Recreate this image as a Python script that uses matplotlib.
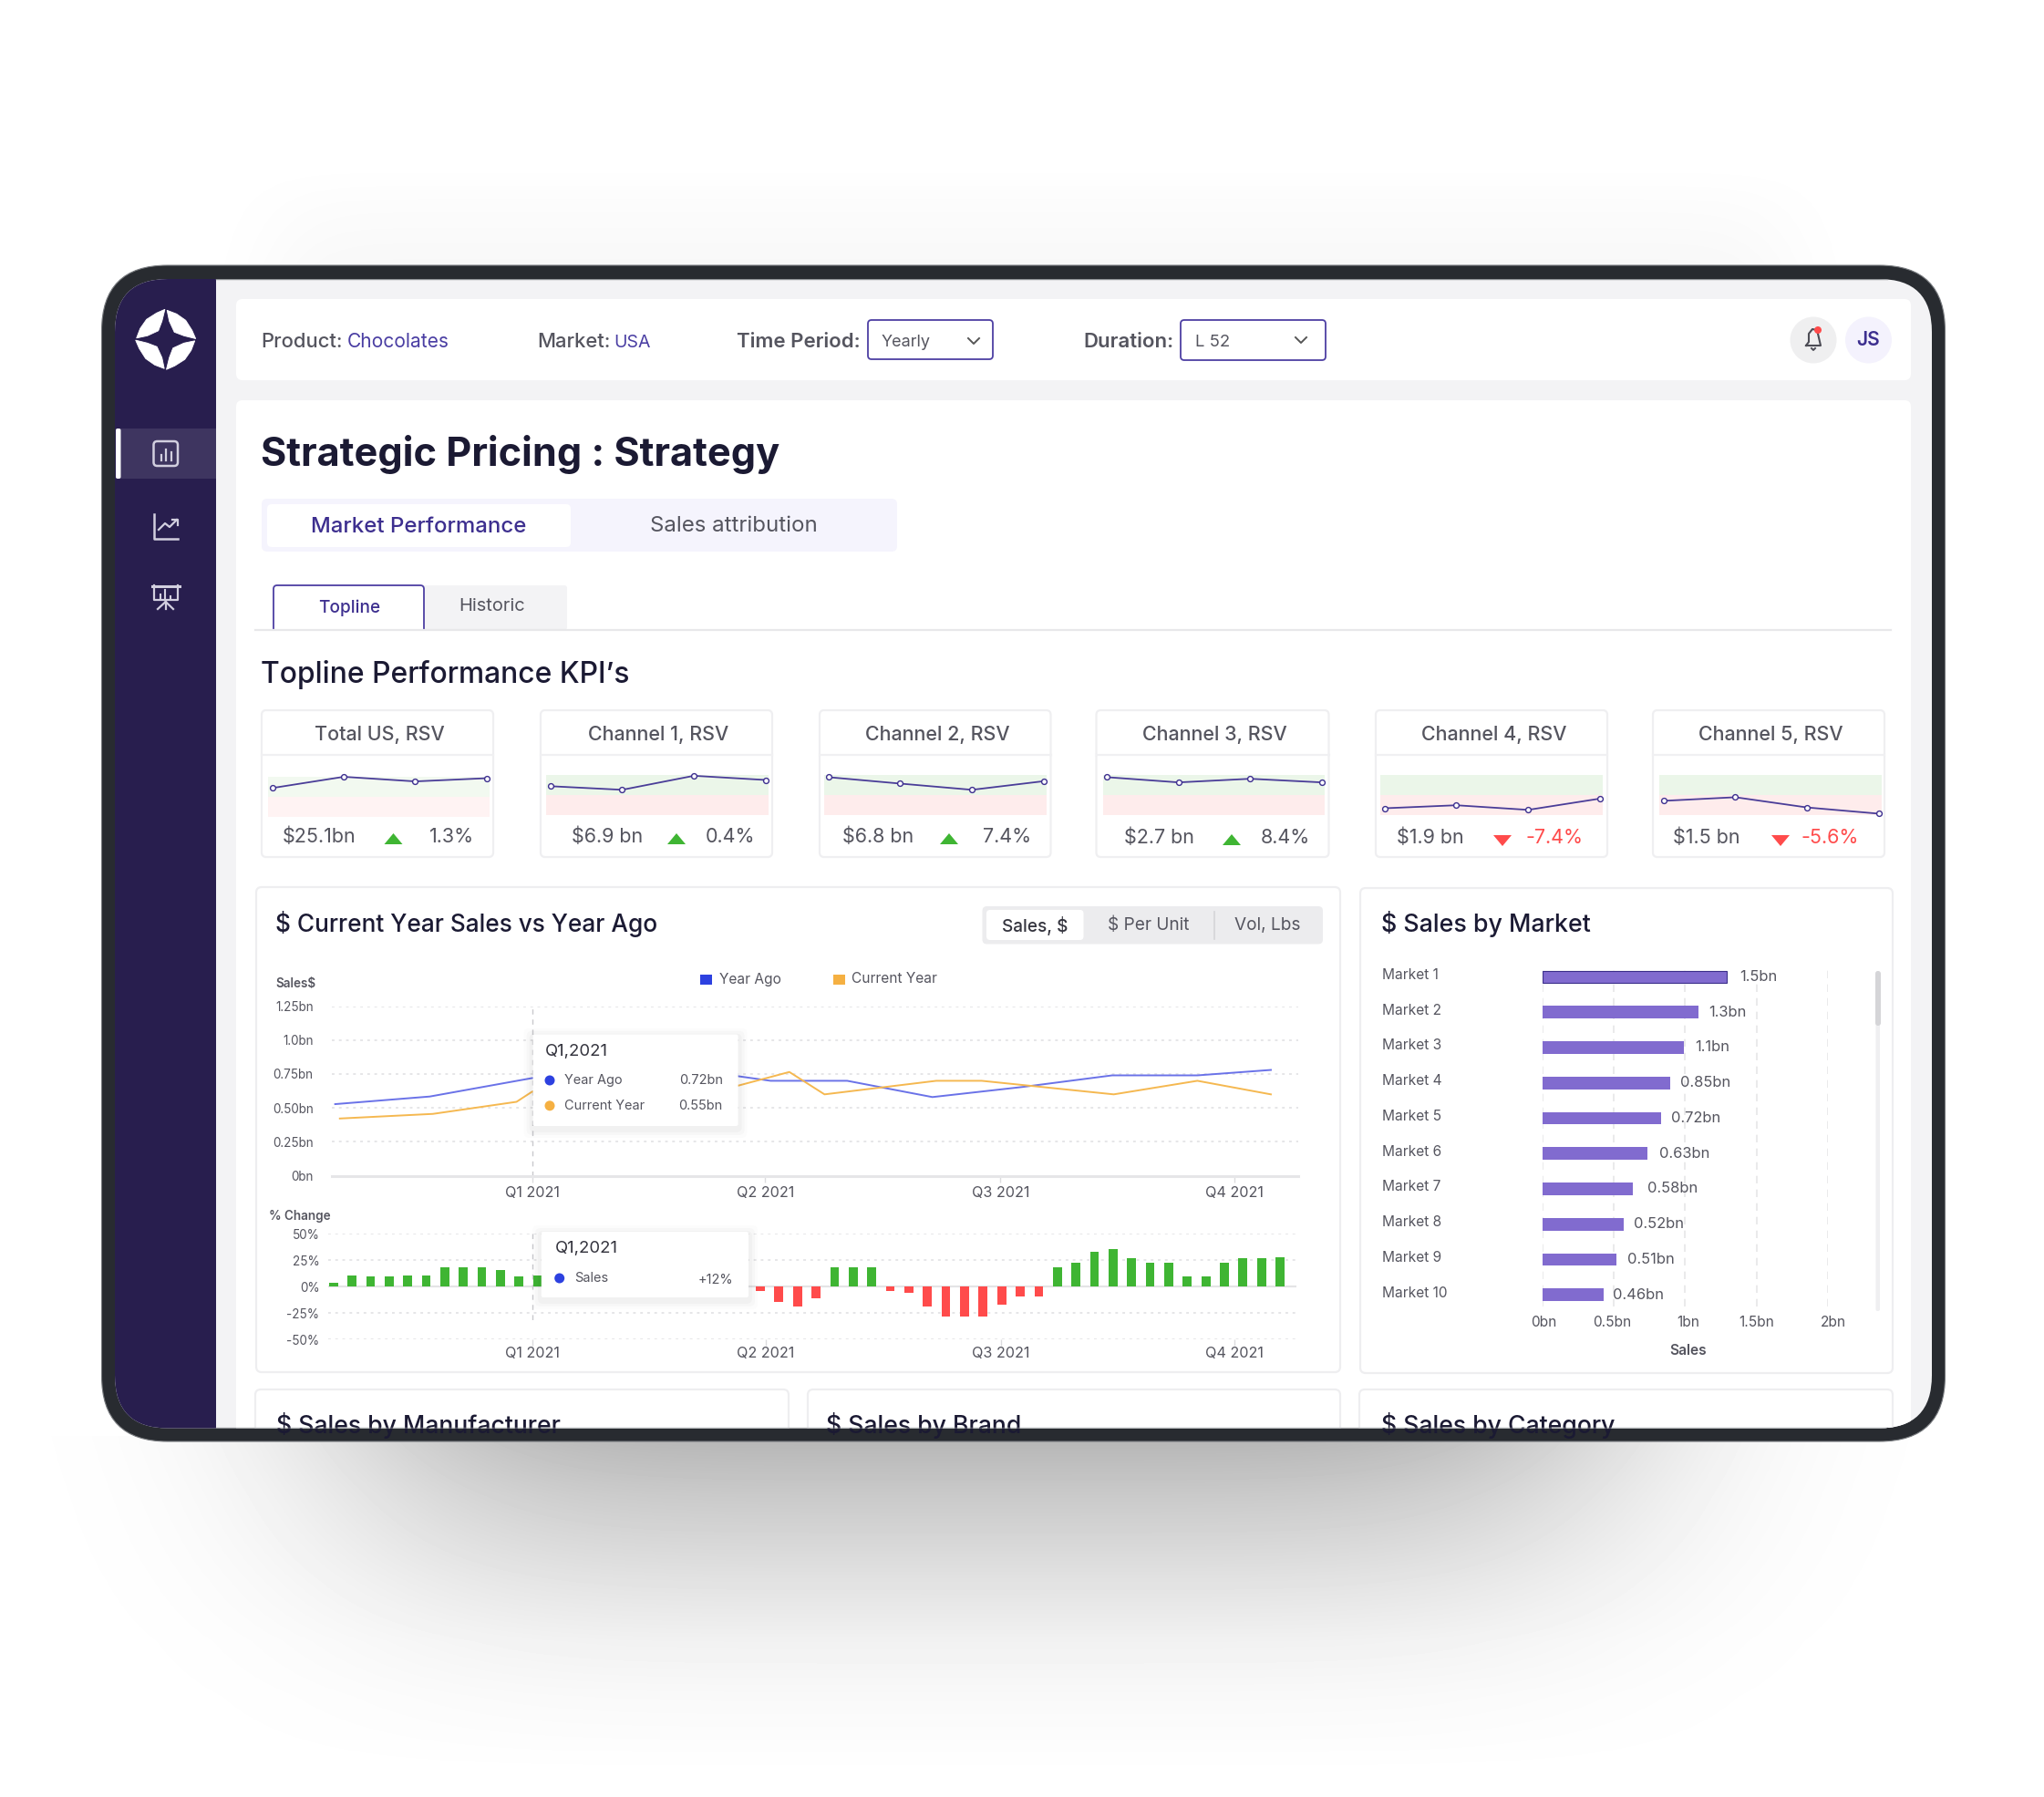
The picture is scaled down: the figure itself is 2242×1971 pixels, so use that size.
import math
import numpy as np
import matplotlib
matplotlib.use("Agg")
import matplotlib.pyplot as plt
from matplotlib.patches import FancyBboxPatch, Rectangle, Circle, Polygon
from matplotlib.transforms import ScaledTranslation

W, H = 2242, 1971

# ---------- data ----------
kpi_titles = ["Total US, RSV", "Channel 1, RSV", "Channel 2, RSV", "Channel 3, RSV", "Channel 4, RSV", "Channel 5, RSV"]
kpi_values = ["$25.1bn", "$6.9 bn", "$6.8 bn", "$2.7 bn", "$1.9 bn", "$1.5 bn"]
kpi_changes = ["1.3%", "0.4%", "7.4%", "8.4%", "-7.4%", "-5.6%"]
spark_total = [0.44, 1.00, 0.77, 0.93]
spark_ch1 = [0.44, 0.26, 0.96, 0.75]
spark_ch2 = [0.89, 0.57, 0.26, 0.69]
spark_ch3 = [0.89, 0.63, 0.81, 0.63]
spark_ch4 = [-0.66, -0.51, -0.74, -0.18]
spark_ch5 = [-0.29, -0.11, -0.62, -0.93]

quarter_labels = ["Q1 2021", "Q2 2021", "Q3 2021", "Q4 2021"]
quarter_months = [0, 2.98, 5.99, 8.98]
quarter_weeks = [10.7, 23.3, 35.97, 48.53]
sales_ticks = [0, 0.25, 0.5, 0.75, 1.0, 1.25]
sales_ticklabels = ["0bn", "0.25bn", "0.50bn", "0.75bn", "1.0bn", "1.25bn"]
year_ago_month = [-2.52, -1.31, 0, 1.3, 2.62, 3.05, 4.03, 5.12, 6.28, 7.42, 8.51, 9.45]
year_ago_sales = [0.528, 0.584, 0.72, 0.75, 0.735, 0.70, 0.70, 0.58, 0.655, 0.74, 0.74, 0.78]
current_month = [-2.46, -1.27, -0.2, 0, 1.3, 2.64, 3.29, 3.74, 5.17, 5.75, 7.44, 8.51, 9.45]
current_sales = [0.422, 0.456, 0.545, 0.62, 0.64, 0.665, 0.765, 0.60, 0.70, 0.70, 0.60, 0.70, 0.60]

pct_ticks = [-50, -25, 0, 25, 50]
pct_ticklabels = ["-50%", "-25%", "0%", "25%", "50%"]
weekly_change = [4, 11, 10, 10, 11, 11, 18, 18, 18, 16, 10, 11,
                 12, 14, 15, 10, 8, 5, 3, 2, 1, -1, -2,
                 -4, -14, -18.5, -10.5, 18, 18, 18, -4, -6, -19, -28, -28, -28, -16.5, -9, -9,
                 18, 23, 33, 36, 27, 23, 23, 10, 10, 23, 27, 27, 28]

markets = ["Market 1", "Market 2", "Market 3", "Market 4", "Market 5",
           "Market 6", "Market 7", "Market 8", "Market 9", "Market 10"]
market_bars = [1.293, 1.096, 0.99, 0.894, 0.832, 0.736, 0.63, 0.569, 0.517, 0.429]
market_labels = ["1.5bn", "1.3bn", "1.1bn", "0.85bn", "0.72bn", "0.63bn", "0.58bn", "0.52bn", "0.51bn", "0.46bn"]
market_ticks = [0, 0.5, 1, 1.5, 2]
market_ticklabels = ["0bn", "0.5bn", "1bn", "1.5bn", "2bn"]

# ---------- style ----------
plt.rcParams["font.family"] = ["Inter", "DejaVu Sans"]
INK = "#1b1a33"
GREY = "#55555f"
PURPLE = "#3d2f8f"
BEZEL = "#282b30"
SIDE = "#281e4e"
GREEN = "#3fb533"
RED = "#ff4b4b"
BLUE = "#6a72e8"
ORANGE = "#f5b850"


def pt(px):
    return px * 0.72


fig = plt.figure(figsize=(W / 100, H / 100), dpi=100, facecolor="white")


def full_axes(z):
    a = fig.add_axes([0, 0, 1, 1], zorder=z)
    a.set_xlim(0, W)
    a.set_ylim(H, 0)
    a.axis("off")
    a.patch.set_alpha(0)
    return a


bg = full_axes(0)
over = full_axes(5)


def ax_px(x0, y0, x1, y1, z=2):
    a = fig.add_axes([x0 / W, 1 - y1 / H, (x1 - x0) / W, (y1 - y0) / H], zorder=z)
    a.patch.set_alpha(0)
    return a


def rrect(a, x0, y0, x1, y1, r=6, fc="white", ec="none", lw=0, z=2, **kw):
    p = FancyBboxPatch((x0 + r, y0 + r), x1 - x0 - 2 * r, y1 - y0 - 2 * r,
                       boxstyle=f"round,pad={r},rounding_size={r}",
                       fc=fc, ec=ec, lw=lw, zorder=z, **kw)
    a.add_patch(p)
    return p


def T(a, x, y, s, size, color=GREY, ha="left", weight="normal", z=6):
    return a.text(x, y, s, fontsize=pt(size), color=color, ha=ha, va="center",
                  fontweight=weight, zorder=z)


# ---------- background shadow ----------
erf = np.vectorize(math.erf)
xs = np.arange(W)
ys = np.arange(H)
gx = 0.5 * (erf((xs - 400) / 220) - erf((xs - 1750) / 220))
gx2 = 0.5 * (erf((xs - 300) / 70) - erf((xs - 1960) / 70))
fy = np.interp(ys, [1575, 1640, 1733, 1800, 1860, 1950], [0.29, 0.21, 0.115, 0.055, 0.025, 0.0], left=0, right=0)
fy2 = np.interp(ys, [175, 230, 295], [0.0, 0.015, 0.03], left=0, right=0)
shade = np.outer(fy, gx) + np.outer(fy2, gx2)
bg.imshow(1 - shade, cmap="gray", vmin=0, vmax=1, extent=[0, W, H, 0], aspect="auto", zorder=0)
bg.set_xlim(0, W)
bg.set_ylim(H, 0)

# ---------- device ----------
rrect(bg, 111.5, 291, 2133.5, 1581, r=72, fc=BEZEL, ec="#777a7e", lw=0.8, z=1)
inner = rrect(bg, 126, 306, 2119, 1566.5, r=58, fc="#f3f3f5", z=1.5)

bg.add_patch(Rectangle((126, 306), 111, 1262, fc=SIDE, ec="none", zorder=2))
bg.add_patch(Rectangle((127, 470), 110, 55, fc="#3e3560", ec="none", zorder=2.1))
rrect(bg, 127, 470, 132.5, 525, r=2, fc="white", z=2.2)
bg.plot([237, 2070], [306, 306], color="#8d9094", lw=1, zorder=2.3)
bg.plot([237, 2070], [1566, 1566], color="#8d9094", lw=1, zorder=9)

# logo: four petals
petal = np.array([(1.5, -32), (12, -28), (22, -21), (29, -10), (33, -0.8), (20, -4), (9.5, -8), (4, -20)])
for k in range(4):
    c, s = math.cos(k * math.pi / 2), math.sin(k * math.pi / 2)
    pts = np.column_stack([petal[:, 0] * c - petal[:, 1] * s, petal[:, 0] * s + petal[:, 1] * c])
    bg.add_patch(Polygon(pts + [181.7, 372.3], closed=True, fc="white", ec="white", lw=0.6, zorder=3))

ICON = "#d2cfdf"
# icon 1
rrect(bg, 168.5, 484, 195, 511, r=4, fc="none", ec=ICON, lw=1.8, z=3)
for xb, y0 in [(176.5, 499), (182, 493), (188, 496)]:
    bg.plot([xb, xb], [y0, 505], color=ICON, lw=1.6, zorder=3)
# icon 2
bg.plot([168.5, 168.5, 195], [564, 591, 591], color=ICON, lw=1.8, zorder=3)
bg.plot([174, 181, 186, 194], [581, 574, 578, 570], color=ICON, lw=1.6, zorder=3)
bg.plot([188.5, 195, 195], [570, 570, 576], color=ICON, lw=1.6, zorder=3)
# icon 3
bg.plot([167, 197], [642.5, 642.5], color=ICON, lw=2.2, zorder=3)
bg.plot([169, 169, 195, 195], [642, 658, 658, 642], color=ICON, lw=1.6, zorder=3)
for xb, y0 in [(176, 652), (181, 647), (187, 654)]:
    bg.plot([xb, xb], [y0, 656], color=ICON, lw=1.5, zorder=3)
for xe in (173, 181.7, 190):
    bg.plot([181.7, xe], [660, 668], color=ICON, lw=1.6, zorder=3)

# ---------- header ----------
rrect(bg, 259, 328, 2096, 417, r=7, fc="white")
T(bg, 286, 375, "Product:", 22, weight="medium")
T(bg, 380.5, 375, "Chocolates", 21, color="#4a3ea3")
T(bg, 589, 375, "Market:", 22, weight="medium")
T(bg, 673, 376, "USA", 19.5, color="#4a3ea3")
T(bg, 808, 375, "Time Period:", 22.2, weight="semibold")
rrect(bg, 952, 351, 1089, 394, r=4, fc="white", ec="#4d3fa3", lw=1.3, z=3)
T(bg, 967, 376, "Yearly", 18)
bg.plot([1062, 1068, 1074], [371, 377, 371], color="#555", lw=1.4, zorder=4)
T(bg, 1188, 375, "Duration:", 22.2, weight="semibold")
rrect(bg, 1295, 351, 1454, 395, r=4, fc="white", ec="#4d3fa3", lw=1.3, z=3)
T(bg, 1311, 376, "L 52", 18.5)
bg.plot([1421, 1427, 1433], [370, 376, 370], color="#555", lw=1.4, zorder=4)
bg.add_patch(Circle((1989, 373), 25.5, fc="#efeff0", ec="none", zorder=3))
bg.add_patch(Circle((2049.5, 373), 25.5, fc="#f4f2fd", ec="none", zorder=3))
bg.plot([1981, 1984, 1984, 1988, 1993, 1994, 1997, 1981], [379, 375, 366, 361, 362, 366, 379, 379],
        color="#4c4c55", lw=1.5, zorder=4)
bg.plot([1987, 1989, 1991], [382, 384, 382], color="#4c4c55", lw=1.4, zorder=4)
bg.add_patch(Circle((1994, 362), 4, fc=RED, ec="none", zorder=5))
T(bg, 2049.5, 373, "JS", 21, color=PURPLE, ha="center", weight="semibold")

# ---------- main card ----------
rrect(bg, 259, 439, 2096, 1600, r=7, fc="white")
T(bg, 286.5, 498, "Strategic Pricing : Strategy", 43.3, color=INK, weight="bold")
rrect(bg, 287, 547, 984, 605, r=6, fc="#f5f4fd", z=3)
rrect(bg, 293, 553, 626, 600, r=5, fc="white", z=3.2)
T(bg, 459, 578, "Market Performance", 24, color=PURPLE, ha="center", weight="medium")
T(bg, 805, 577, "Sales attribution", 24, ha="center")
rrect(bg, 300, 642, 622, 691, r=3, fc="#f3f3f5", z=3)
rrect(bg, 300, 642, 465, 700, r=4, fc="white", ec="#4d3fa3", lw=1.3, z=3.1)
bg.add_patch(Rectangle((296, 691), 175, 14, fc="white", ec="none", zorder=3.2))
bg.plot([280, 2074], [691, 691], color="#e8e8ea", lw=1.6, zorder=3.3)
T(bg, 383, 667, "Topline", 19, color=PURPLE, ha="center", weight="medium")
T(bg, 540, 665, "Historic", 20, ha="center")
T(bg, 286, 740, "Topline Performance KPI\u2019s", 31.8, color=INK, weight="medium")

# ---------- KPI cards ----------
card_x = [(287, 541), (593, 847), (899, 1152.5), (1202.5, 1457.5), (1509, 1763), (1813, 2067)]
band_x = [(294, 537), (599, 843), (904, 1148), (1209.5, 1453), (1514, 1758), (1820, 2064)]
value_x = [350, 666, 963, 1271.5, 1569, 1872]
tri_x = [431.5, 742, 1041, 1351, 1648, 1953]
pct_x = [495, 801, 1105, 1410, 1705, 2007]
sparks = [spark_total, spark_ch1, spark_ch2, spark_ch3, spark_ch4, spark_ch5]
for i in range(6):
    x0, x1 = card_x[i]
    rrect(bg, x0, 779, x1, 940, r=5, fc="white", ec="#efeff1", lw=1.6, z=3)
    bg.plot([x0, x1], [828, 828], color="#f0f0f2", lw=1.6, zorder=3.2)
    T(bg, (x0 + x1) / 2 + 2.5, 805.5, kpi_titles[i], 21.5, ha="center", weight="medium")
    yv = 918 if i < 3 else 919
    T(bg, value_x[i], yv, kpi_values[i], 21.5, ha="center")
    neg = kpi_changes[i].startswith("-")
    T(bg, pct_x[i], yv, kpi_changes[i], 21.5, color=RED if neg else GREY, ha="center")
    tx = tri_x[i]
    if neg:
        tri = [(tx - 10, yv - 3), (tx + 10, yv - 3), (tx, yv + 9)]
    else:
        tri = [(tx - 10, yv + 8), (tx + 10, yv + 8), (tx, yv - 4)]
    bg.add_patch(Polygon(tri, closed=True, fc=RED if neg else GREEN, ec="none", zorder=4))
    top = 852 if i == 0 else 850
    sa = ax_px(band_x[i][0], top, band_x[i][1], top + 44)
    sa.axis("off")
    sa.set_xlim(-0.06, 3.04)
    sa.set_ylim(-1, 1)
    soft = i == 0
    sa.axhspan(0, 1, color="#f2f9f0" if soft else "#ebf6e9", lw=0)
    sa.axhspan(-1, 0, color="#fff3f3" if soft else "#feecec", lw=0)
    sa.plot(range(4), sparks[i], color="#4a3d98", lw=1.3, marker="o", ms=4.2, mfc="white", mec=PURPLE,
            mew=1.0, clip_on=False)

# ---------- chart cards ----------
rrect(bg, 281, 973, 1470, 1505, r=6, fc="white", ec="#eeeef0", lw=1.6, z=3)
rrect(bg, 1492, 974, 2076, 1506, r=6, fc="white", ec="#eeeef0", lw=1.6, z=3)
for x0, x1, title, tx, tsize in [(280, 865, "$ Sales by Manufacturer", 303, 26.6),
                                 (886, 1470, "$ Sales by Brand", 906, 26.6),
                                 (1491, 2076, "$ Sales by Category", 1515, 26.6)]:
    rrect(bg, x0, 1524, x1, 1640, r=6, fc="white", ec="#eeeef0", lw=1.6, z=3)
    T(bg, tx, 1564, title, tsize, color=INK, weight="medium")

T(bg, 302, 1013, "$ Current Year Sales vs Year Ago", 26.2, color=INK, weight="medium")
T(bg, 1515, 1014, "$ Sales by Market", 26.8, color=INK, weight="medium")
rrect(bg, 1077.5, 994, 1451, 1035.5, r=5, fc="#ececee", z=3.2)
rrect(bg, 1082, 998, 1188.5, 1031, r=4, fc="white", z=3.3)
T(bg, 1135.5, 1015, "Sales, $", 19, color="#35353f", ha="center", weight="medium")
T(bg, 1259.5, 1015, "$ Per Unit", 19, ha="center")
bg.plot([1332, 1332], [1000, 1030], color="#d5d5d8", lw=1.2, zorder=3.4)
T(bg, 1390.5, 1015, "Vol, Lbs", 19, ha="center")
bg.add_patch(Rectangle((768, 1069), 13, 10.5, fc="#2d41e0", ec="none", zorder=4))
T(bg, 789, 1074, "Year Ago", 15.5)
bg.add_patch(Rectangle((913.5, 1069), 13, 10.5, fc="#f5b042", ec="none", zorder=4))
T(bg, 934, 1074, "Current Year", 15.5)
T(bg, 302, 1079.5, "Sales$", 13.5, weight="semibold")
T(bg, 295, 1334, "% Change", 13.5, weight="semibold")

# ---------- line chart ----------
la = ax_px(364.2, 1103.6, 1424, 1289.6)
la.set_xlim(-2.56, 9.80)
la.set_ylim(0, 1.25)
for s in la.spines.values():
    s.set_visible(False)
la.spines["bottom"].set_visible(True)
la.spines["bottom"].set_color("#e6e6e8")
la.spines["bottom"].set_linewidth(2.2)
la.yaxis.grid(True, color="#e6e6e8", lw=1.4, ls=(0, (1.5, 2.5)))
la.set_axisbelow(True)
la.set_yticks(sales_ticks, sales_ticklabels)
la.set_xticks(quarter_months, quarter_labels)
la.tick_params(axis="y", length=0, pad=pt(20.5), labelsize=pt(13.5), labelcolor=GREY)
la.tick_params(axis="x", length=5, width=1, color="#dcdcdf", pad=pt(4), labelsize=pt(16.2), labelcolor=GREY)
la.axvline(0, color="#c9c9cd", lw=1, ls=(0, (4, 4)))
la.plot(year_ago_month, year_ago_sales, color=BLUE, lw=1.4)
la.plot(current_month, current_sales, color=ORANGE, lw=1.4)

# ---------- change bars ----------
ba = ax_px(360.4, 1353.3, 1421.8, 1469.4)
ba.set_xlim(-0.26, 51.87)
ba.set_ylim(-50, 50)
for s in ba.spines.values():
    s.set_visible(False)
ba.yaxis.grid(True, color="#e6e6e8", lw=1.4, ls=(0, (1.5, 2.5)))
ba.set_axisbelow(True)
ba.axhline(0, color="#e4e4e6", lw=1.6, zorder=1)
ba.set_yticks(pct_ticks, pct_ticklabels)
ba.set_xticks(quarter_weeks, quarter_labels)
ba.tick_params(axis="y", length=0, pad=pt(10), labelsize=pt(13.5), labelcolor=GREY)
ba.tick_params(axis="x", length=5, width=1, color="#dcdcdf", pad=pt(1), labelsize=pt(16.2), labelcolor=GREY)
ba.plot([quarter_weeks[0]] * 2, [50, -34], color="#c9c9cd", lw=1, ls=(0, (4, 4)), zorder=1)
ba.bar(range(len(weekly_change)), weekly_change, width=0.48,
       color=[GREEN if v >= 0 else RED for v in weekly_change], zorder=2)

# ---------- market bars ----------
ma = ax_px(1692, 1061, 2004.7, 1433)
ma.set_xlim(0, 2)
ma.set_ylim(9.33, -0.27)
for s in ma.spines.values():
    s.set_visible(False)
ma.xaxis.grid(True, color="#e6e6e8", lw=1.2, ls=(0, (5, 4)))
ma.set_axisbelow(True)
ma.set_xticks(market_ticks, market_ticklabels)
ma.set_yticks(range(len(markets)), markets)
ma.tick_params(axis="x", length=0, pad=pt(10), labelsize=pt(15.5), labelcolor=GREY)
ma.tick_params(axis="y", length=0, pad=pt(176), labelsize=pt(15.5), labelcolor=GREY)
for lab in ma.get_yticklabels():
    lab.set_ha("left")
    lab.set_transform(lab.get_transform() + ScaledTranslation(0, 3.5 / 100, fig.dpi_scale_trans))
tick_shift = [1, -2, 3, 0, 6.6]
for lab, dx in zip(ma.get_xticklabels(), tick_shift):
    lab.set_transform(lab.get_transform() + ScaledTranslation(dx / 100, 0, fig.dpi_scale_trans))
bars = ma.barh(range(len(markets)), market_bars, height=0.355, color="#816bcf", zorder=2)
bars[0].set_edgecolor("#3b2f8a")
bars[0].set_linewidth(0.8)
label_gaps = [13.6, 10.9, 12.8, 10.9, 10.9, 13.2, 16.3, 10.9, 12, 9.7]
for i, (v, lbl) in enumerate(zip(market_bars, market_labels)):
    ma.annotate(lbl, (v, i), xytext=(pt(label_gaps[i]), 0), textcoords="offset points",
                va="center", ha="left", fontsize=pt(16.5), color=GREY)
T(bg, 1852, 1482, "Sales", 15.5, ha="center", weight="semibold")
rrect(bg, 2057.5, 1065, 2062, 1438, r=2, fc="#efeff1", z=3.4)
rrect(bg, 2057, 1065, 2063, 1125, r=3, fc="#d5d5d8", z=3.5)

# ---------- tooltips ----------
for (x0, y0, x1, y1) in [(584.6, 1134.6, 809.6, 1235), (593.8, 1351, 821, 1423)]:
    for k, al in zip((10, 7, 4), (0.012, 0.018, 0.025)):
        rrect(over, x0 - k, y0 - k + 3, x1 + k, y1 + k + 3, r=6, fc="black", alpha=al, z=6)
    rrect(over, x0, y0, x1, y1, r=2, fc="white", z=7)
T(over, 597.6, 1153.6, "Q1,2021", 18.5, color="#33333d", z=8)
over.add_patch(Circle((603, 1185), 5.5, fc="#2d41e0", ec="none", zorder=8))
T(over, 619, 1185, "Year Ago", 14.5, z=8)
T(over, 792.7, 1185, "0.72bn", 14.5, ha="right", z=8)
over.add_patch(Circle((603, 1212.8), 5.5, fc="#f5b042", ec="none", zorder=8))
T(over, 619, 1212.8, "Current Year", 14.5, z=8)
T(over, 792.7, 1212.8, "0.55bn", 14.5, ha="right", z=8)
T(over, 609, 1369.5, "Q1,2021", 18.5, color="#33333d", z=8)
over.add_patch(Circle((613.7, 1402), 5.5, fc="#2d41e0", ec="none", zorder=8))
T(over, 630.5, 1402, "Sales", 14.5, z=8)
T(over, 804, 1404, "+12%", 14.5, ha="right", z=8)

# clip all device content to the screen
for art in list(bg.patches) + list(bg.lines) + list(bg.texts):
    if art is inner or art.get_zorder() <= 1:
        continue
    art.set_clip_on(True)
    art.set_clip_path(inner)

fig.savefig("out.png", dpi=100, facecolor="white")
